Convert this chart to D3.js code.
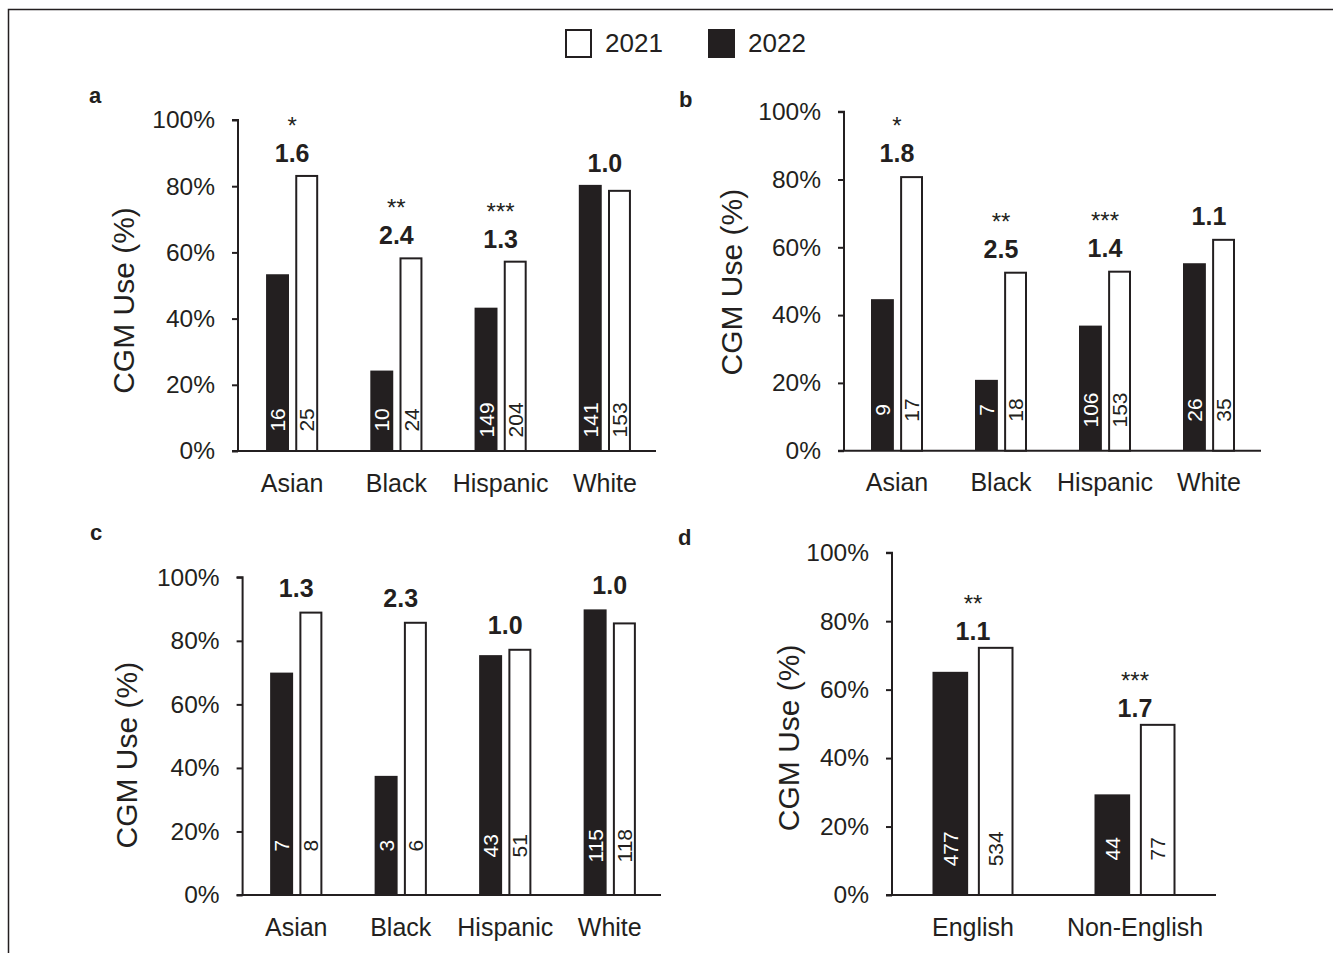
<!DOCTYPE html>
<html><head><meta charset="utf-8">
<script src="https://cdn.jsdelivr.net/npm/d3@7"></script>
<style>
html,body{margin:0;padding:0;background:#fff;}
svg{display:block;font-family:"Liberation Sans",Arial,Helvetica,sans-serif;}
</style></head>
<body>
<svg id="chart" width="1333" height="953"></svg>
<script>
// ---------- data ----------
const legendLabels = ["2021", "2022"];
const raceCategories = ["Asian", "Black", "Hispanic", "White"];
const languageCategories = ["English", "Non-English"];
const yTickValues = [0, 20, 40, 60, 80, 100];
const yAxisTitle = "CGM Use (%)";

// panel a
const aDark = [53.4, 24.3, 43.3, 80.4];
const aLight = [83.4, 58.5, 57.5, 78.9];
const aDarkN = [16, 10, 149, 141];
const aLightN = [25, 24, 204, 153];
const aRatio = ["1.6", "2.4", "1.3", "1.0"];
const aSig = ["*", "**", "***", ""];

// panel b
const bDark = [44.7, 20.9, 36.9, 55.3];
const bLight = [81.0, 52.8, 53.1, 62.5];
const bDarkN = [9, 7, 106, 26];
const bLightN = [17, 18, 153, 35];
const bRatio = ["1.8", "2.5", "1.4", "1.1"];
const bSig = ["*", "**", "***", ""];

// panel c
const cDark = [70.0, 37.5, 75.5, 89.9];
const cLight = [89.2, 86.0, 77.5, 85.8];
const cDarkN = [7, 3, 43, 115];
const cLightN = [8, 6, 51, 118];
const cRatio = ["1.3", "2.3", "1.0", "1.0"];
const cSig = ["", "", "", ""];

// panel d
const dDark = [65.2, 29.4];
const dLight = [72.5, 50.0];
const dDarkN = [477, 44];
const dLightN = [534, 77];
const dRatio = ["1.1", "1.7"];
const dSig = ["**", "***"];

// ---------- layout (styles / positions) ----------
const INK = "#231f20";
const panels = [
  {letter: "a", cats: raceCategories, dark: aDark, light: aLight, darkN: aDarkN, lightN: aLightN, ratio: aRatio, sig: aSig,
   axisX: 238, axisEnd: 656, band: [240, 657], yTop: 120, yBot: 451, letterPos: [89, 103], titleX: 123, titleDy: 15, nAt: 9.4, ratioOff: 13},
  {letter: "b", cats: raceCategories, dark: bDark, light: bLight, darkN: bDarkN, lightN: bLightN, ratio: bRatio, sig: bSig,
   axisX: 844, axisEnd: 1261, band: [845, 1261], yTop: 111.7, yBot: 450.7, letterPos: [679, 107], titleX: 731, titleDy: 1, nAt: 12, ratioOff: 14},
  {letter: "c", cats: raceCategories, dark: cDark, light: cLight, darkN: cDarkN, lightN: cLightN, ratio: cRatio, sig: cSig,
   axisX: 242.6, axisEnd: 661, band: [244, 662], yTop: 577.3, yBot: 895, letterPos: [90, 540], titleX: 126, titleDy: 19, nAt: 15.5, ratioOff: 15},
  {letter: "d", cats: languageCategories, dark: dDark, light: dLight, darkN: dDarkN, lightN: dLightN, ratio: dRatio, sig: dSig,
   axisX: 892, axisEnd: 1216, band: [892, 1216], yTop: 552.7, yBot: 895, letterPos: [678, 545], titleX: 788, titleDy: 14, nAt: 13.5, ratioOff: 7}
];

const svg = d3.select("#chart");

// frame
svg.append("path").attr("d", "M8.5,953V9.5H1333").attr("fill", "none").attr("stroke", INK).attr("stroke-width", 1.5);

// legend
const legend = svg.append("g");
const legendBoxes = [{x: 565, fill: "#fff"}, {x: 708, fill: INK}];
legendLabels.forEach((lab, i) => {
  legend.append("rect").attr("x", legendBoxes[i].x + 1).attr("y", 30).attr("width", 25).attr("height", 27)
    .attr("fill", legendBoxes[i].fill).attr("stroke", INK).attr("stroke-width", 2);
  legend.append("text").attr("x", legendBoxes[i].x + 40).attr("y", 52).attr("font-size", 26).attr("fill", INK).text(lab);
});

panels.forEach(p => {
  const g = svg.append("g");
  const y = d3.scaleLinear().domain([0, 100]).range([p.yBot, p.yTop]);
  const x = d3.scaleBand().domain(p.cats).range(p.band).paddingInner(0).paddingOuter(0);
  const step = x.bandwidth();
  const bw = step * 0.22;
  const gap = step * 0.06;

  // y axis
  const yAxis = d3.axisLeft(y).tickValues(yTickValues).tickFormat(d => d + "%").tickSize(6).tickPadding(17);
  const ya = g.append("g").attr("transform", `translate(${p.axisX},0)`).call(yAxis);
  ya.select(".domain").attr("stroke", INK).attr("stroke-width", 2).attr("d", `M-6,${p.yTop}H0V${p.yBot}`);
  ya.selectAll(".tick line").attr("stroke", INK).attr("stroke-width", 2);
  ya.selectAll(".tick text").attr("font-size", 24.5).attr("fill", INK).attr("font-family", null);

  // x axis
  const xAxis = d3.axisBottom(x).tickSize(0).tickPadding(23);
  const xa = g.append("g").attr("transform", `translate(0,${p.yBot})`).call(xAxis);
  xa.select(".domain").attr("stroke", INK).attr("stroke-width", 2).attr("d", `M${p.axisX - 6},0H${p.axisEnd}`);
  xa.selectAll(".tick text").attr("font-size", 25).attr("fill", INK).attr("font-family", null);

  // bars
  const idx = p.cats.map((c, i) => i);
  const cx = i => x(p.cats[i]) + step / 2;
  g.selectAll(".dark").data(idx).join("rect")
    .attr("x", i => cx(i) - gap / 2 - bw).attr("width", bw)
    .attr("y", i => y(p.dark[i])).attr("height", i => y(0) - y(p.dark[i]))
    .attr("fill", INK);
  g.selectAll(".light").data(idx).join("rect")
    .attr("x", i => cx(i) + gap / 2 + 1).attr("width", bw - 2)
    .attr("y", i => y(p.light[i]) + 1).attr("height", i => y(0) - y(p.light[i]) - 1)
    .attr("fill", "#fff").attr("stroke", INK).attr("stroke-width", 2);

  // counts (rotated)
  idx.forEach(i => {
    const yc = y(p.nAt);
    g.append("text").attr("transform", `translate(${cx(i) - gap / 2 - bw / 2},${yc}) rotate(-90)`)
      .attr("text-anchor", "middle").attr("dy", "0.36em").attr("font-size", 21).attr("fill", "#fff").text(p.darkN[i]);
    g.append("text").attr("transform", `translate(${cx(i) + gap / 2 + bw / 2},${yc}) rotate(-90)`)
      .attr("text-anchor", "middle").attr("dy", "0.36em").attr("font-size", 21).attr("fill", INK).text(p.lightN[i]);
  });

  // ratios and significance
  idx.forEach(i => {
    const top = y(Math.max(p.dark[i], p.light[i])) - p.ratioOff;
    g.append("text").attr("x", cx(i)).attr("y", top).attr("text-anchor", "middle")
      .attr("font-size", 25).attr("font-weight", "bold").attr("fill", INK).text(p.ratio[i]);
    if (p.sig[i]) {
      g.append("text").attr("x", cx(i)).attr("y", top - 28).attr("text-anchor", "middle")
        .attr("font-size", 24).attr("fill", INK).text(p.sig[i]);
    }
  });

  // y title
  const midY = (p.yTop + p.yBot) / 2 + p.titleDy;
  g.append("text").attr("transform", `translate(${p.titleX},${midY}) rotate(-90)`)
    .attr("text-anchor", "middle").attr("dy", "0.36em").attr("font-size", 30).attr("fill", INK).text(yAxisTitle);

  // panel letter
  g.append("text").attr("x", p.letterPos[0]).attr("y", p.letterPos[1]).attr("font-size", 22)
    .attr("font-weight", "bold").attr("fill", INK).text(p.letter);
});
</script>
</body></html>
